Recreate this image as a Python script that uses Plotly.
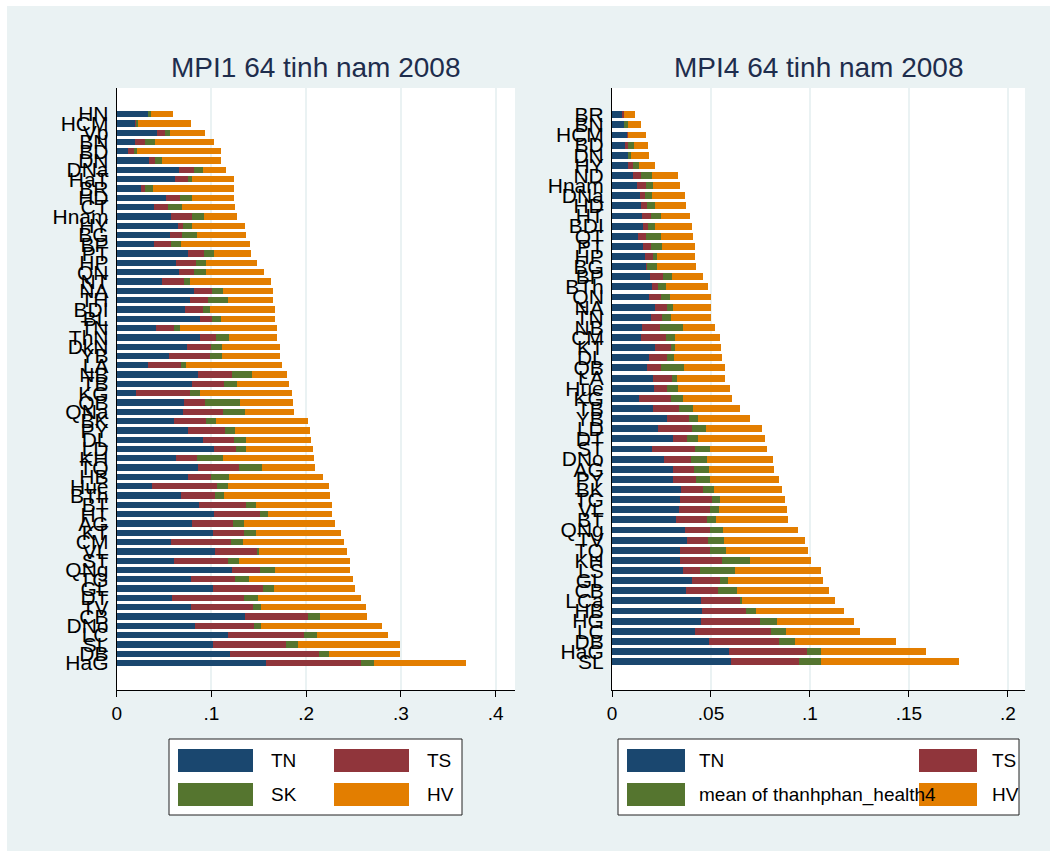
import plotly.graph_objects as go

W, H = 1056, 860

# ---------------- data ----------------
left_labels = ["HN","HCM","Vp","BN","BD","DN","DNa","HaT","BR","HD","CT","Hnam","HY","BG","BP",
               "PT","HP","QN","NT","NA","TH","BDI","BL","TN","ThN","DkN","YB","LA","NB","TB",
               "KG","QB","QNa","BK","PY","DL","LD","KH","TQ","HB","Hue","BTh","BT","HT","AG",
               "KT","CM","VL","ST","QNg","TG","GL","DT","TV","CB","DNo","LC","SL","DB","HaG"]
left_TN = [0.0327,0.0200,0.0426,0.0186,0.0120,0.0334,0.0651,0.0616,0.0257,0.0521,0.0387,0.0573,0.0644,0.0563,0.0390,
           0.0746,0.0619,0.0651,0.0478,0.0809,0.0767,0.0721,0.0872,0.0408,0.0872,0.0735,0.0545,0.0331,0.0858,0.0788,
           0.0204,0.0704,0.0693,0.0598,0.0746,0.0904,0.1020,0.0619,0.0851,0.0746,0.0373,0.0675,0.0865,0.1027,0.0788,
           0.1010,0.0573,0.1031,0.0598,0.1217,0.0785,0.1010,0.0577,0.0785,0.1351,0.0823,0.1175,0.1010,0.1189,0.1576]
left_TS = [0.0000,0.0007,0.0077,0.0113,0.0056,0.0063,0.0162,0.0130,0.0042,0.0148,0.0155,0.0218,0.0049,0.0127,0.0183,
           0.0172,0.0218,0.0165,0.0232,0.0190,0.0190,0.0183,0.0134,0.0190,0.0169,0.0260,0.0440,0.0341,0.0359,0.0338,
           0.0563,0.0229,0.0422,0.0338,0.0398,0.0327,0.0232,0.0222,0.0433,0.0250,0.0679,0.0355,0.0493,0.0478,0.0433,
           0.0331,0.0626,0.0450,0.0577,0.0288,0.0464,0.0528,0.0760,0.0654,0.0661,0.0619,0.0795,0.0774,0.0939,0.1003]
left_SK = [0.0035,0.0018,0.0060,0.0106,0.0039,0.0081,0.0099,0.0049,0.0084,0.0127,0.0148,0.0123,0.0102,0.0151,0.0099,
           0.0109,0.0099,0.0127,0.0063,0.0123,0.0218,0.0074,0.0095,0.0070,0.0141,0.0109,0.0127,0.0056,0.0211,0.0144,
           0.0106,0.0362,0.0239,0.0113,0.0099,0.0134,0.0106,0.0281,0.0250,0.0183,0.0116,0.0102,0.0106,0.0091,0.0123,
           0.0130,0.0130,0.0021,0.0116,0.0165,0.0148,0.0116,0.0155,0.0084,0.0127,0.0077,0.0144,0.0130,0.0113,0.0137]
left_HV = [0.0225,0.0552,0.0362,0.0616,0.0887,0.0623,0.0243,0.0436,0.0848,0.0443,0.0556,0.0352,0.0559,0.0524,0.0728,
           0.0390,0.0538,0.0605,0.0848,0.0521,0.0468,0.0686,0.0570,0.1017,0.0510,0.0612,0.0612,0.1017,0.0366,0.0542,
           0.0978,0.0566,0.0510,0.0967,0.0799,0.0686,0.0707,0.0953,0.0559,0.0999,0.1069,0.1119,0.0802,0.0672,0.0957,
           0.0890,0.1062,0.0929,0.1172,0.0792,0.1091,0.0862,0.1087,0.1108,0.0496,0.1281,0.0749,0.1069,0.0742,0.0971]

right_labels = ["BR","BN","HCM","BD","DN","HY","ND","Hnam","DNa","HD","HT","BDI","QT","PT",
                "HP","BG","BP","BTh","QN","NA","TN","NB","CM","KT","DL","QB","LA","Hue",
                "KG","TB","YB","LD","DT","ST","DNo","AG","PY","BK","TG","VL","BT","QNg",
                "TV","TQ","KH","LS","GL","CB","LCa","HB","HG","LC","DB","HaG","SL"]
right_TN = [0.0049,0.0059,0.0076,0.0068,0.0079,0.0081,0.0105,0.0125,0.0140,0.0147,0.0150,0.0157,0.0130,0.0157,
            0.0167,0.0172,0.0193,0.0201,0.0186,0.0216,0.0198,0.0152,0.0144,0.0218,0.0188,0.0179,0.0208,0.0211,
            0.0137,0.0208,0.0279,0.0231,0.0307,0.0204,0.0264,0.0309,0.0307,0.0346,0.0343,0.0338,0.0321,0.0368,
            0.0378,0.0343,0.0343,0.0360,0.0405,0.0373,0.0451,0.0454,0.0451,0.0419,0.0490,0.0591,0.0601]
right_TS = [0.0012,0.0000,0.0007,0.0012,0.0000,0.0025,0.0042,0.0046,0.0029,0.0030,0.0047,0.0025,0.0042,0.0041,
            0.0039,0.0007,0.0064,0.0032,0.0061,0.0063,0.0056,0.0090,0.0127,0.0079,0.0090,0.0068,0.0095,0.0068,
            0.0162,0.0130,0.0111,0.0172,0.0071,0.0216,0.0137,0.0105,0.0118,0.0115,0.0162,0.0157,0.0160,0.0127,
            0.0106,0.0154,0.0213,0.0086,0.0140,0.0162,0.0196,0.0223,0.0296,0.0385,0.0355,0.0395,0.0345]
right_SK = [0.0002,0.0020,0.0000,0.0030,0.0015,0.0029,0.0054,0.0037,0.0032,0.0041,0.0049,0.0034,0.0074,0.0052,
            0.0020,0.0047,0.0046,0.0039,0.0046,0.0029,0.0042,0.0117,0.0047,0.0019,0.0037,0.0117,0.0025,0.0056,
            0.0062,0.0071,0.0042,0.0074,0.0057,0.0076,0.0079,0.0074,0.0069,0.0054,0.0041,0.0047,0.0044,0.0066,
            0.0081,0.0081,0.0139,0.0176,0.0042,0.0095,0.0008,0.0051,0.0084,0.0076,0.0081,0.0071,0.0110]
right_HV = [0.0052,0.0068,0.0088,0.0071,0.0091,0.0081,0.0132,0.0137,0.0167,0.0154,0.0147,0.0186,0.0162,0.0171,
            0.0194,0.0198,0.0157,0.0213,0.0208,0.0194,0.0206,0.0159,0.0228,0.0235,0.0242,0.0208,0.0245,0.0262,
            0.0245,0.0238,0.0267,0.0280,0.0338,0.0285,0.0334,0.0331,0.0348,0.0346,0.0326,0.0343,0.0363,0.0380,
            0.0410,0.0410,0.0311,0.0434,0.0480,0.0468,0.0473,0.0444,0.0390,0.0372,0.0510,0.0530,0.0698]

left_xticks = [0, 0.1, 0.2, 0.3, 0.4]
left_xticktext = ["0", ".1", ".2", ".3", ".4"]
right_xticks = [0, 0.05, 0.1, 0.15, 0.2]
right_xticktext = ["0", ".05", ".1", ".15", ".2"]

# ---------------- style ----------------
COL = {"TN": "#1A476F", "TS": "#90353B", "SK": "#55752F", "HV": "#E37E00"}
BG = "#EAF2F3"
FONT = "Liberation Sans, Arial, sans-serif"

def px(x):
    return x / W

def py(y):
    return 1 - y / H

fig = go.Figure()
for key, vals in [("TN", left_TN), ("TS", left_TS), ("SK", left_SK), ("HV", left_HV)]:
    fig.add_trace(go.Bar(orientation="h", x=vals, y=list(range(len(vals))), name=key,
                         marker=dict(color=COL[key], line=dict(width=0)), width=0.68,
                         xaxis="x", yaxis="y", showlegend=False, hoverinfo="x+name"))
for key, vals in [("TN", right_TN), ("TS", right_TS), ("SK", right_SK), ("HV", right_HV)]:
    fig.add_trace(go.Bar(orientation="h", x=vals, y=list(range(len(vals))), name=key,
                         marker=dict(color=COL[key], line=dict(width=0)), width=0.68,
                         xaxis="x2", yaxis="y2", showlegend=False, hoverinfo="x+name"))

def xax(domain, rng, tv, tt, anchor):
    return dict(domain=domain, range=rng, tickmode="array", tickvals=tv, ticktext=tt,
                ticks="outside", ticklen=6, tickwidth=1, tickcolor="black",
                showline=True, linecolor="black", linewidth=1,
                showgrid=True, gridcolor=BG, gridwidth=2, zeroline=False,
                tickfont=dict(size=19, color="black", family=FONT), anchor=anchor,
                automargin=False, fixedrange=True)

def yax(domain, rng, labels, anchor):
    return dict(domain=domain, range=rng, tickmode="array", tickvals=list(range(len(labels))),
                ticktext=labels, ticks="outside", ticklen=3, tickcolor="rgba(0,0,0,0)",
                showline=True, linecolor="black", linewidth=1, showgrid=False, zeroline=False,
                tickfont=dict(size=21, color="black", family=FONT), anchor=anchor,
                automargin=False, fixedrange=True)

ydom = [py(690), py(88)]
fig.update_layout(
    width=W, height=H, margin=dict(l=0, r=0, t=0, b=0),
    paper_bgcolor=BG, plot_bgcolor="white", barmode="stack", bargap=0,
    font=dict(family=FONT, color="black"),
    xaxis=xax([px(116.7), px(515)], [0, 0.4204], left_xticks, left_xticktext, "y"),
    yaxis=yax(ydom, [61.9, -2.8], left_labels, "x"),
    xaxis2=xax([px(612), px(1025)], [0, 0.2086], right_xticks, right_xticktext, "y2"),
    yaxis2=yax(ydom, [56.8, -2.64], right_labels, "x2"),
)

shapes = []
annotations = []
# thin white border around the graph region
for (x0, y0, x1, y1) in [(0, 0, W, 6), (0, 0, 7, H), (1050, 0, W, H), (0, 851, W, H)]:
    shapes.append(dict(type="rect", xref="paper", yref="paper", x0=px(x0), x1=px(x1),
                       y0=py(y1), y1=py(y0), fillcolor="white", line=dict(width=0), layer="above"))

# titles
annotations.append(dict(text="MPI1 64 tinh nam 2008", x=px(316), y=py(68), xref="paper", yref="paper",
                        showarrow=False, xanchor="center", yanchor="middle",
                        font=dict(size=28, color="#1E2D4D", family=FONT)))
annotations.append(dict(text="MPI4 64 tinh nam 2008", x=px(819), y=py(68), xref="paper", yref="paper",
                        showarrow=False, xanchor="center", yanchor="middle",
                        font=dict(size=28, color="#1E2D4D", family=FONT)))

# legends (drawn manually to get the 2x2 Stata layout)
def legend(box, items):
    x0, y0, x1, y1 = box
    shapes.append(dict(type="rect", xref="paper", yref="paper", x0=px(x0), x1=px(x1),
                       y0=py(y1), y1=py(y0), fillcolor="white", line=dict(color="#222222", width=1)))
    for (sx0, sx1, sy0, sy1, color, label, tx) in items:
        shapes.append(dict(type="rect", xref="paper", yref="paper", x0=px(sx0), x1=px(sx1),
                           y0=py(sy1), y1=py(sy0), fillcolor=color, line=dict(width=0)))
        annotations.append(dict(text=label, x=px(tx), y=py((sy0 + sy1) / 2), xref="paper", yref="paper",
                                showarrow=False, xanchor="left", yanchor="middle",
                                font=dict(size=19, color="black", family=FONT)))

legend((169, 739, 462, 815), [
    (178, 253, 749, 772, COL["TN"], "TN", 269),
    (334, 409, 749, 772, COL["TS"], "TS", 425),
    (178, 253, 783, 806, COL["SK"], "SK", 269),
    (334, 409, 783, 806, COL["HV"], "HV", 425),
])
legend((618, 739, 1019, 815), [
    (627, 685, 749, 772, COL["TN"], "TN", 697),
    (919, 977, 749, 772, COL["TS"], "TS", 990),
    (627, 685, 783, 806, COL["SK"], "mean of thanhphan_health4", 697),
    (919, 977, 783, 806, COL["HV"], "HV", 990),
])

fig.update_layout(shapes=shapes, annotations=annotations)
fig.write_html("out.html")
